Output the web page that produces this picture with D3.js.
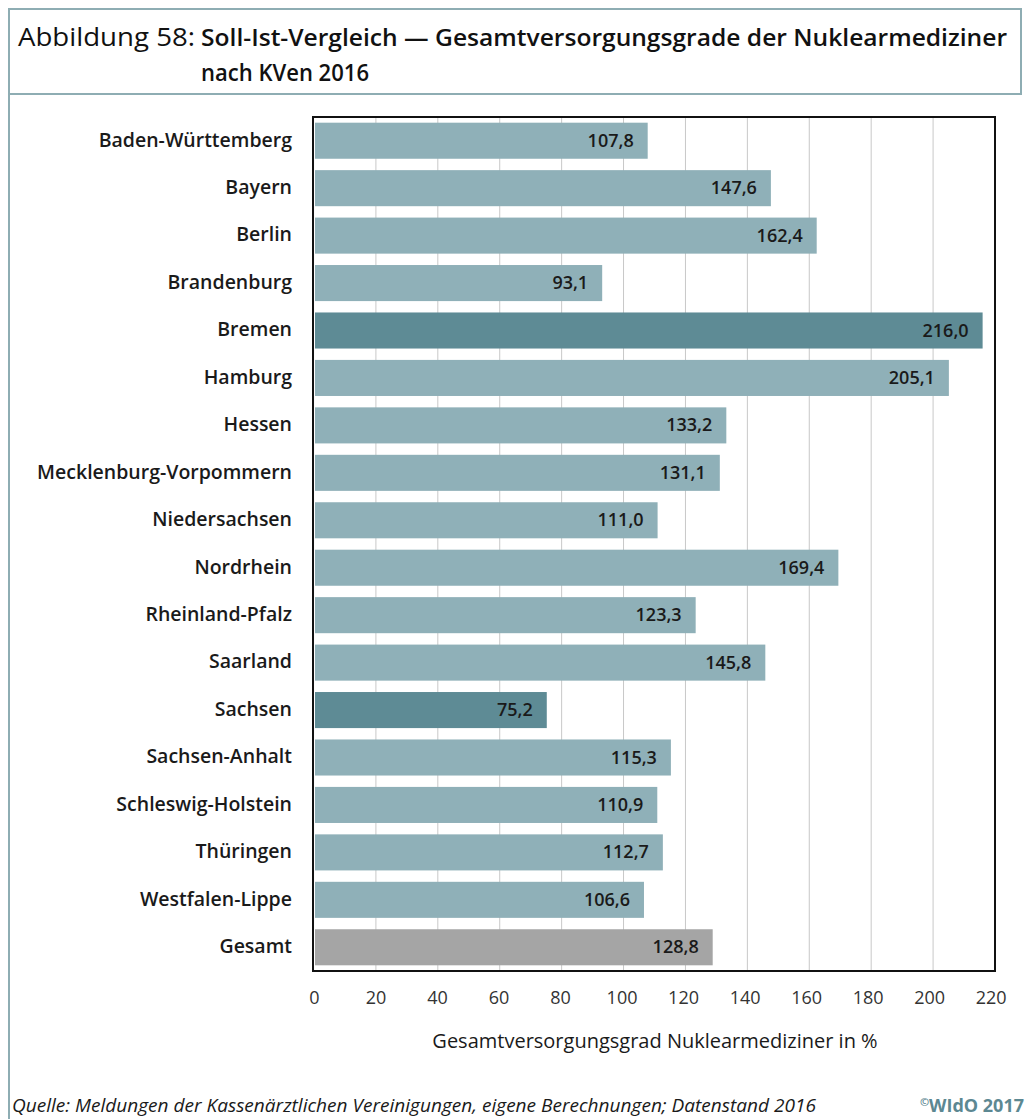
<!DOCTYPE html>
<html><head><meta charset="utf-8">
<script src="https://cdn.jsdelivr.net/npm/d3@7"></script>
<style>body{margin:0;background:#fff}svg{display:block}</style>
</head><body>
<script>
const categories = ["Baden-Württemberg","Bayern","Berlin","Brandenburg","Bremen","Hamburg","Hessen","Mecklenburg-Vorpommern","Niedersachsen","Nordrhein","Rheinland-Pfalz","Saarland","Sachsen","Sachsen-Anhalt","Schleswig-Holstein","Thüringen","Westfalen-Lippe","Gesamt"];
const values = [107.8,147.6,162.4,93.1,216.0,205.1,133.2,131.1,111.0,169.4,123.3,145.8,75.2,115.3,110.9,112.7,106.6,128.8];
const barType = ["n","n","n","n","hi","n","n","n","n","n","n","n","hi","n","n","n","n","total"];
const tickValues = [0,20,40,60,80,100,120,140,160,180,200,220];
const titleLabel = "Abbildung 58:";
const titleLine1 = "Soll-Ist-Vergleich — Gesamtversorgungsgrade der Nuklearmediziner";
const titleLine2 = "nach KVen 2016";
const axisTitle = "Gesamtversorgungsgrad Nuklearmediziner in %";
const sourceText = "Quelle: Meldungen der Kassenärztlichen Vereinigungen, eigene Berechnungen; Datenstand 2016";
const copyrightText = "WIdO 2017";

(function(){
const W = 1026, H = 1119;
const svg = d3.select("body").append("svg").attr("width", W).attr("height", H);
const font = "'Open Sans', 'DejaVu Sans', sans-serif";
const border = "#8eadb3";

// frame
svg.append("line").attr("x1",9).attr("x2",9).attr("y1",8).attr("y2",H).attr("stroke",border).attr("stroke-width",2);
svg.append("line").attr("x1",8).attr("x2",1021).attr("y1",9).attr("y2",9).attr("stroke",border).attr("stroke-width",2);
svg.append("line").attr("x1",1021).attr("x2",1021).attr("y1",8).attr("y2",94).attr("stroke",border).attr("stroke-width",2);
svg.append("line").attr("x1",8).attr("x2",1022).attr("y1",94).attr("y2",94).attr("stroke",border).attr("stroke-width",2);

// title
svg.append("text").attr("x",18).attr("y",46).attr("font-family",font).attr("font-size",25)
  .attr("fill","#111").attr("textLength",177).attr("lengthAdjust","spacingAndGlyphs").text(titleLabel);
svg.append("text").attr("x",201).attr("y",46).attr("font-family",font).attr("font-size",23).attr("font-weight","600")
  .attr("fill","#111").attr("textLength",806).attr("lengthAdjust","spacingAndGlyphs").text(titleLine1);
svg.append("text").attr("x",201).attr("y",81).attr("font-family",font).attr("font-size",23).attr("font-weight","600")
  .attr("fill","#111").attr("textLength",168).attr("lengthAdjust","spacingAndGlyphs").text(titleLine2);

// plot
const pL = 314, pR = 995, pT = 117, pB = 971;
const x = d3.scaleLinear().domain([0,220]).range([pL,pR]);
const y = d3.scaleBand().domain(categories).range([pT,pB]).paddingInner(0.24).paddingOuter(0.12);

// grid
svg.append("g").selectAll("line").data(tickValues.slice(1,-1)).join("line")
  .attr("x1",d=>x(d)).attr("x2",d=>x(d)).attr("y1",pT).attr("y2",pB)
  .attr("stroke","#c8c8c8").attr("stroke-width",1);

const colors = {n:"#8fb0b8", hi:"#5e8b95", total:"#a5a5a5"};
svg.append("g").selectAll("rect").data(categories).join("rect")
  .attr("x",x(0)+1).attr("y",d=>y(d)).attr("height",y.bandwidth())
  .attr("width",(d,i)=>x(values[i])-x(0)-1)
  .attr("fill",(d,i)=>colors[barType[i]]);

// value labels
svg.append("g").selectAll("text").data(categories).join("text")
  .attr("x",(d,i)=>x(values[i])-14).attr("y",d=>y(d)+y.bandwidth()/2+6)
  .attr("text-anchor","end").attr("font-family",font).attr("font-size",18).attr("font-weight","600")
  .attr("fill","#1a1a1a").text((d,i)=>d3.format(".1f")(values[i]).replace(".",","));

// frame of plot
svg.append("rect").attr("x",pL-1).attr("y",pT).attr("width",pR-pL+1).attr("height",pB-pT)
  .attr("fill","none").attr("stroke","#111").attr("stroke-width",2);

// category axis
const yAxis = svg.append("g").attr("transform",`translate(${pL},0)`)
  .call(d3.axisLeft(y).tickSize(0).tickPadding(22));
yAxis.select(".domain").remove();
yAxis.selectAll("text").attr("font-family",font).attr("font-size",19.5).attr("font-weight","600")
  .attr("fill","#1a1a1a").attr("dy","0.3em");

// x axis
const xAxis = svg.append("g").attr("transform",`translate(0,${pB})`)
  .call(d3.axisBottom(x).tickValues(tickValues).tickSize(0).tickPadding(20).tickFormat(d3.format("d")));
xAxis.select(".domain").remove();
xAxis.selectAll("text").attr("font-family",font).attr("font-size",18).attr("fill","#333").attr("dx",d=>-d/50);

svg.append("text").attr("x",655).attr("y",1048).attr("text-anchor","middle").attr("font-family",font)
  .attr("font-size",20).attr("fill","#1a1a1a").text(axisTitle);

// source
svg.append("text").attr("x",12).attr("y",1112).attr("font-family",font).attr("font-size",19).attr("font-style","italic")
  .attr("fill","#1a1a1a").attr("textLength",804).attr("lengthAdjust","spacingAndGlyphs").text(sourceText);
const cp = svg.append("text").attr("x",1024).attr("y",1112).attr("text-anchor","end").attr("font-family",font)
  .attr("font-size",18).attr("font-weight","bold").attr("fill","#5c8892");
cp.append("tspan").attr("font-size",11).attr("dy",-6).text("©");
cp.append("tspan").attr("dy",6).text(copyrightText);
})();
</script>
</body></html>
